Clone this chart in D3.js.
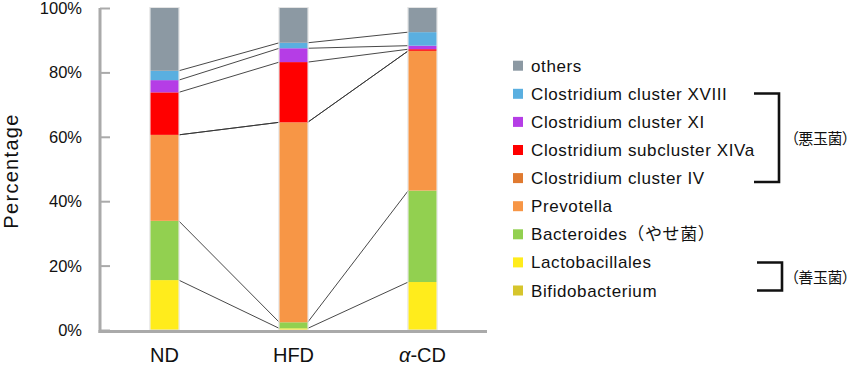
<!DOCTYPE html>
<html><head><meta charset="utf-8">
<script src="https://cdn.jsdelivr.net/npm/d3@7"></script>
<style>
html,body{margin:0;padding:0;background:#fff;}
svg{display:block;font-family:"Liberation Sans","Noto Sans CJK JP",sans-serif;}
.cjk{font-family:"Noto Sans CJK JP",sans-serif;font-feature-settings:"palt";}
</style></head>
<body><svg id="c" width="850" height="365"></svg>
<script>
const groups = ["ND", "HFD", "α-CD"];
const seriesNames = ["Bifidobacterium", "Lactobacillales", "Bacteroides（やせ菌）", "Prevotella",
  "Clostridium cluster IV", "Clostridium subcluster XIVa", "Clostridium cluster XI",
  "Clostridium cluster XVIII", "others"];
const seriesColors = ["#d6c52c", "#ffec1c", "#92d050", "#f79646", "#e07a30", "#ff0000", "#b53de6", "#5aafe0", "#8c99a3"];
// values per series in order ND, HFD, α-CD (percent)
const bifidobacterium = [0, 0, 0];
const lactobacillales = [15.5, 0.5, 14.9];
const bacteroides = [18.4, 1.9, 28.4];
const prevotella = [26.7, 62.1, 43.4];
const clostridiumIV = [0, 0, 0];
const clostridiumXIVa = [13.2, 18.7, 0.5];
const clostridiumXI = [3.8, 4.3, 1.1];
const clostridiumXVIII = [2.9, 1.7, 4.2];
const others = [19.5, 10.8, 7.5];
const yTicks = [0, 20, 40, 60, 80, 100];
const legendOrder = [8, 7, 6, 5, 4, 3, 2, 1, 0];
const badLabel = "（悪玉菌）";
const goodLabel = "（善玉菌）";

const seriesValues = [bifidobacterium, lactobacillales, bacteroides, prevotella, clostridiumIV,
  clostridiumXIVa, clostridiumXI, clostridiumXVIII, others];

const table = groups.map((g, gi) => {
  const row = {group: g};
  seriesNames.forEach((s, si) => row[s] = seriesValues[si][gi]);
  return row;
});
const stacked = d3.stack().keys(seriesNames)(table);

const svg = d3.select("#c");
const x = d3.scaleBand().domain(groups).range([100, 487]).paddingInner(0.78).paddingOuter(0.39);
const y = d3.scaleLinear().domain([0, 100]).range([330, 8]);
const color = d3.scaleOrdinal().domain(seriesNames).range(seriesColors);

// connector lines
const connectors = svg.append("g");
stacked.forEach((layer, li) => {
  if (li === stacked.length - 1) return;
  const tops = layer.map(d => d[1]);
  if (tops.every(v => v === 0)) return;
  for (let i = 0; i < groups.length - 1; i++) {
    connectors.append("line")
      .attr("x1", x(groups[i]) + x.bandwidth())
      .attr("x2", x(groups[i + 1]))
      .attr("y1", y(tops[i]))
      .attr("y2", y(tops[i + 1]))
      .attr("stroke", "#333").attr("stroke-width", 0.9);
  }
});

// bars
svg.append("g").selectAll("g").data(stacked).join("g")
  .attr("fill", d => color(d.key))
  .selectAll("rect").data(d => d).join("rect")
  .attr("x", d => x(d.data.group))
  .attr("width", x.bandwidth())
  .attr("y", d => y(d[1]))
  .attr("height", d => y(d[0]) - y(d[1]));
// light outline on bars
svg.append("g").selectAll("rect").data(groups).join("rect")
  .attr("x", d => x(d) - 0.5).attr("width", x.bandwidth() + 1)
  .attr("y", y(100) - 0.5).attr("height", y(0) - y(100) + 0.5)
  .attr("fill", "none").attr("stroke", "#e4e4e4").attr("stroke-width", 1);

// axes
const yAxis = svg.append("g").attr("transform", "translate(100,0)")
  .call(d3.axisRight(y).tickValues(yTicks).tickSize(10).tickFormat(""));
yAxis.select(".domain").remove();
yAxis.selectAll(".tick line").attr("stroke", "#aaa").attr("stroke-width", 2);
svg.append("line").attr("x1", 100).attr("x2", 100).attr("y1", y(100)).attr("y2", 333)
  .attr("stroke", "#aaa").attr("stroke-width", 3);
svg.append("line").attr("x1", 98.5).attr("x2", 487).attr("y1", 331.5).attr("y2", 331.5)
  .attr("stroke", "#aaa").attr("stroke-width", 3);
svg.append("g").selectAll("text").data(yTicks).join("text")
  .attr("x", 82).attr("y", d => y(d) + 6)
  .attr("text-anchor", "end").attr("font-size", 16.5).attr("fill", "#111")
  .text(d => d + "%");

// x labels
const xl = svg.append("g").selectAll("text").data(groups).join("text")
  .attr("x", d => x(d) + x.bandwidth() / 2).attr("y", 362)
  .attr("text-anchor", "middle").attr("font-size", 20).attr("fill", "#111");
xl.each(function(d) {
  const t = d3.select(this);
  if (d.startsWith("α")) {
    t.append("tspan").attr("font-style", "italic").text("α");
    t.append("tspan").text(d.slice(1));
  } else t.text(d);
});

// y label
svg.append("text").attr("transform", "translate(18,171) rotate(-90)")
  .attr("text-anchor", "middle").attr("font-size", 20).attr("letter-spacing", 1.3)
  .attr("fill", "#111").text("Percentage");

// legend
const leg = svg.append("g").selectAll("g").data(legendOrder).join("g")
  .attr("transform", (d, i) => `translate(513,${65.7 + i * 28.1})`);
leg.append("rect").attr("x", 0).attr("y", -5).attr("width", 10).attr("height", 10)
  .attr("fill", d => seriesColors[d]);
leg.append("text").attr("x", 18).attr("y", 6).attr("font-size", 17).attr("letter-spacing", 0.6)
  .attr("fill", "#111").text(d => seriesNames[d]);

// brackets
const br = svg.append("g").attr("fill", "none").attr("stroke", "#111").attr("stroke-width", 2.6);
br.append("path").attr("d", "M754,93.5H779V182H754");
br.append("path").attr("d", "M757,262.5H782V290.5H757");
svg.append("text").attr("class", "cjk").attr("x", 791).attr("y", 143.5).attr("font-size", 15)
  .attr("letter-spacing", -0.3).attr("fill", "#111").text(badLabel);
svg.append("text").attr("class", "cjk").attr("x", 791).attr("y", 282.5).attr("font-size", 15)
  .attr("letter-spacing", -0.3).attr("fill", "#111").text(goodLabel);
</script></body></html>
